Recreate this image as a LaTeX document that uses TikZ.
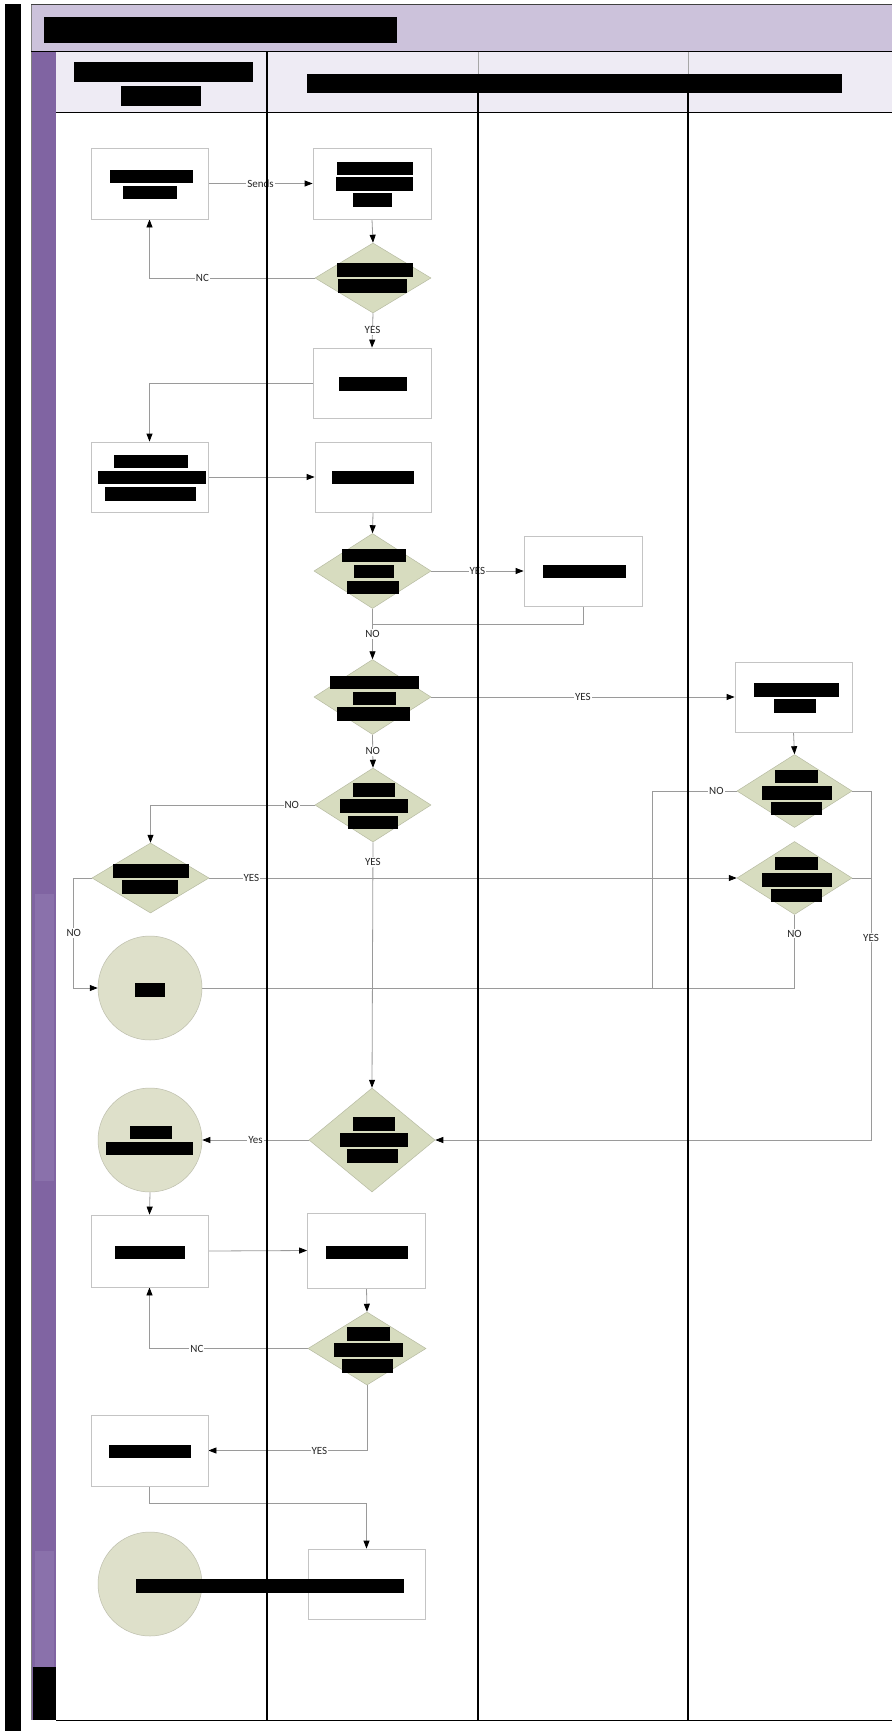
\documentclass[tikz,border=0pt]{standalone}
\usepackage{fontspec}
\setmainfont{Carlito}
\usetikzlibrary{shapes.geometric,arrows.meta,calc}
\definecolor{band}{HTML}{CCC2DB}
\definecolor{hdr}{HTML}{EEEBF4}
\definecolor{strip}{HTML}{8064A2}
\definecolor{stripl}{HTML}{8A71AB}
\definecolor{dfill}{HTML}{D7DCBF}
\definecolor{cfill}{HTML}{DEE0CA}
\definecolor{conn}{HTML}{9A9A9A}
\definecolor{bbord}{HTML}{C4C4C4}
\pgfdeclarelayer{bg}\pgfdeclarelayer{cn}\pgfdeclarelayer{ln}\pgfdeclarelayer{fg}
\pgfsetlayers{bg,cn,ln,main,fg}
\newcommand\redbar[4]{\fill[black] (#1,#2) rectangle (#3,#4);}
\tikzset{
 procbox/.style={draw=bbord, fill=white, line width=0.8pt, rectangle, inner sep=0pt},
 decbox/.style={draw=dfill!85!black, fill=dfill, diamond, inner sep=0pt, line width=0.5pt},
 endcirc/.style={draw=cfill!85!black, fill=cfill, circle, inner sep=0pt, minimum size=104pt, line width=0.5pt},
 flow/.style={draw=conn, line width=0.8pt, -{Triangle[length=8pt,width=6pt,color=black]}},
 plainflow/.style={draw=conn, line width=0.8pt},
 lbl/.style={font=\fontsize{11}{13}\selectfont, fill=white, inner sep=1pt, text=black!85},
}
\begin{document}
\begin{tikzpicture}[x=1pt,y=-1pt]
\useasboundingbox (0,0) rectangle (892,1731);
% ---------- frame ----------
\begin{pgfonlayer}{bg}
\fill[white] (0,0) rectangle (892,1731);
\fill[black] (5,4) rectangle (21,1731);
\fill[band] (31,5) rectangle (892,52);
\fill[hdr] (56,52) rectangle (892,113);
\fill[strip] (32,52) rectangle (56,1720);
\fill[stripl] (35,894) rectangle (54,1181);
\fill[stripl] (35,1551) rectangle (54,1667);
\fill[black] (33,1667) rectangle (56,1720);
\draw[black!75, line width=1pt] (31,5) -- (892,5);
\draw[black!50, line width=0.8pt] (31,5) -- (31,1720);
\draw[black, line width=1pt] (31,52) -- (892,52);
\draw[black, line width=1pt] (56,113) -- (892,113);
\draw[black, line width=1pt] (56,1720) -- (892,1720);
\end{pgfonlayer}
% ---------- lanes ----------
\begin{pgfonlayer}{ln}
\draw[black, line width=1.1pt] (267,52) -- (267,1720);
\draw[black!35, line width=1pt] (478,52) -- (478,74);
\draw[black!35, line width=1pt] (688,52) -- (688,74);
\draw[black, line width=1.1pt] (478,74) -- (478,1720);
\draw[black, line width=1.1pt] (688,74) -- (688,1720);
\end{pgfonlayer}
% ---------- nodes ----------
\node[procbox, minimum width=117pt, minimum height=71pt] (A) at (149.5,183.5) {};
\node[procbox, minimum width=118pt, minimum height=71pt] (B) at (372,183.5) {};
\node[decbox, minimum width=116pt, minimum height=70pt] (D1) at (373,278) {};
\node[procbox, minimum width=118pt, minimum height=70pt] (C) at (372,383) {};
\node[procbox, minimum width=117pt, minimum height=70pt] (D) at (149.5,477) {};
\node[procbox, minimum width=116pt, minimum height=70pt] (E) at (373,477) {};
\node[decbox, minimum width=117pt, minimum height=75pt] (D2) at (372.5,571) {};
\node[procbox, minimum width=118pt, minimum height=70pt] (F) at (583,571) {};
\node[decbox, minimum width=117pt, minimum height=75pt] (D3) at (372.5,697) {};
\node[procbox, minimum width=117pt, minimum height=70pt] (G) at (793.5,697) {};
\node[decbox, minimum width=116pt, minimum height=74pt] (D4) at (373,805) {};
\node[decbox, minimum width=117pt, minimum height=70pt] (D5) at (150.5,878) {};
\node[decbox, minimum width=115pt, minimum height=73pt] (D6) at (794.5,791) {};
\node[decbox, minimum width=115pt, minimum height=73pt] (D7) at (794.5,878) {};
\node[endcirc] (C1) at (150,988) {};
\node[decbox, minimum width=126pt, minimum height=104pt] (D8) at (372,1140) {};
\node[endcirc] (C2) at (150,1140) {};
\node[procbox, minimum width=117pt, minimum height=72pt] (H) at (149.5,1251) {};
\node[procbox, minimum width=118pt, minimum height=75pt] (I) at (366.5,1250.5) {};
\node[decbox, minimum width=118pt, minimum height=73pt] (D9) at (367,1348.5) {};
\node[procbox, minimum width=117pt, minimum height=71pt] (J) at (149.5,1450.5) {};
\node[procbox, minimum width=117pt, minimum height=70pt] (K) at (366.5,1584) {};
\node[endcirc] (C3) at (150,1584) {};
\coordinate (j1) at (372.5,624);
\coordinate (j2) at (652,988);
\coordinate (r1) at (871,791);
\coordinate (r2) at (871,878);
% ---------- connectors ----------
\begin{pgfonlayer}{cn}
\draw[flow] (A.east) -- node[lbl]{Sends} (B.west);
\draw[flow] (B.south) -- (D1.north);
\draw[flow] (D1.west) -| node[lbl,pos=0.34]{NC} (A.south);
\draw[flow] (D1.south) -- node[lbl]{YES} (C.north);
\draw[flow] (C.west) -| (D.north);
\draw[flow] (D.east) -- (E.west);
\draw[flow] (E.south) -- (D2.north);
\draw[flow] (D2.east) -- node[lbl]{YES} (F.west);
\draw[plainflow] (F.south) |- (j1);
\draw[flow] (D2.south) -- node[lbl]{NO} (D3.north);
\draw[flow] (D3.east) -- node[lbl]{YES} (G.west);
\draw[flow] (D3.south) -- node[lbl]{NO} (D4.north);
\draw[flow] (G.south) -- (D6.north);
\draw[flow] (D4.west) -| node[lbl,pos=0.07]{NO} (D5.north);
\draw[flow] (D5.east) -- node[lbl,pos=0.08]{YES} (D7.west);
\draw[flow] (D5.west) -- ++(-18,0) |- node[lbl,pos=0.25]{NO} (C1.west);
\draw[plainflow] (D7.south) |- node[lbl,pos=0.13]{NO} (C1.east);
\draw[plainflow] (D6.west) -| node[lbl,pos=0.12]{NO} (j2);
\draw[flow] (D6.east) -- (r1) |- node[lbl,pos=0.21]{YES} (D8.east);
\draw[plainflow] (D7.east) -- (r2);
\draw[flow] (D4.south) -- node[lbl,pos=0.08]{YES} (D8.north);
\draw[flow] (D8.west) -- node[lbl]{Yes} (C2.east);
\draw[flow] (C2.south) -- (H.north);
\draw[flow] (H.east) -- (I.west);
\draw[flow] (I.south) -- (D9.north);
\draw[flow] (D9.west) -| node[lbl,pos=0.35]{NC} (H.south);
\draw[flow] (D9.south) |- node[lbl,pos=0.65]{YES} (J.east);
\draw[flow] (J.south) -- ++(0,17) -| (K.north);
\end{pgfonlayer}
% ---------- redacted text ----------
\begin{pgfonlayer}{fg}
\redbar{44}{17}{397}{43}
\redbar{74}{62}{253}{82}\redbar{121}{86}{201}{106}
\redbar{307}{74}{842}{93}
\redbar{110}{170}{193}{183}\redbar{123}{186}{177}{199}
\redbar{337}{162}{413}{175}\redbar{336}{177}{413}{191}\redbar{353}{193}{392}{207}
\redbar{337}{263}{413}{277}\redbar{338}{279}{407}{293}
\redbar{339}{377}{407}{391}
\redbar{114}{455}{188}{468}\redbar{98}{471}{206}{484}\redbar{105}{487}{196}{501}
\redbar{332}{471}{414}{484}
\redbar{342}{549}{406}{562}\redbar{354}{565}{394}{578}\redbar{347}{581}{399}{594}
\redbar{543}{565}{626}{578}
\redbar{330}{676}{419}{689}\redbar{353}{692}{396}{705}\redbar{337}{707}{410}{721}
\redbar{754}{683}{839}{697}\redbar{774}{699}{816}{713}
\redbar{353}{783}{395}{797}\redbar{340}{799}{408}{813}\redbar{348}{816}{398}{829}
\redbar{113}{864}{189}{878}\redbar{122}{880}{178}{894}
\redbar{775}{770}{818}{783}\redbar{762}{786}{832}{800}\redbar{771}{802}{822}{815}
\redbar{775}{857}{818}{870}\redbar{762}{873}{832}{887}\redbar{771}{889}{822}{902}
\redbar{135}{983}{165}{997}
\redbar{353}{1117}{395}{1131}\redbar{340}{1133}{408}{1147}\redbar{347}{1149}{398}{1163}
\redbar{130}{1126}{172}{1139}\redbar{106}{1142}{193}{1155}
\redbar{115}{1246}{185}{1259}
\redbar{326}{1246}{408}{1259}
\redbar{347}{1327}{390}{1341}\redbar{334}{1343}{403}{1357}\redbar{342}{1359}{393}{1373}
\redbar{109}{1445}{191}{1458}
\redbar{136}{1579}{404}{1593}
\end{pgfonlayer}
\end{tikzpicture}
\end{document}
